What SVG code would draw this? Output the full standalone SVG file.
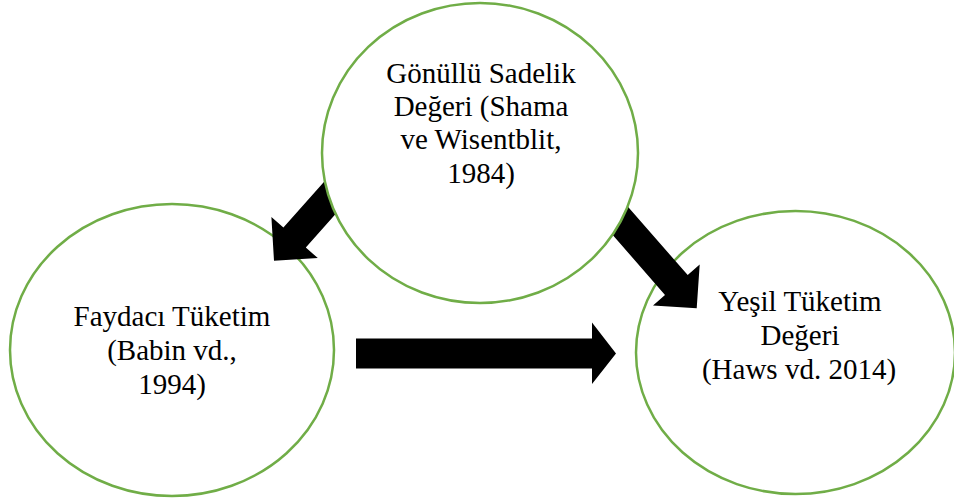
<svg xmlns="http://www.w3.org/2000/svg" width="954" height="502" viewBox="0 0 954 502">
<style>
.node{fill:#ffffff;stroke:#70AD47;stroke-width:2.5}
.arrow{fill:#000000;stroke:none}
.lbl{font-family:"Liberation Serif","Times New Roman",serif;font-size:29px;fill:#000000;text-anchor:middle}
</style>
<rect width="954" height="502" fill="#ffffff"/>
<g id="node-faydaci">
<ellipse class="node" cx="172" cy="350" rx="162" ry="146"/>
<text class="lbl" x="172" y="326">Faydacı Tüketim</text>
<text class="lbl" x="172" y="360">(Babin vd.,</text>
<text class="lbl" x="172" y="394">1994)</text>
</g>
<g id="node-yesil">
<ellipse class="node" cx="795.5" cy="352.5" rx="159.5" ry="141.5"/>
<text class="lbl" x="800" y="311">Yeşil Tüketim</text>
<text class="lbl" x="800" y="345">Değeri</text>
<text class="lbl" x="799" y="379">(Haws vd. 2014)</text>
</g>
<g id="connectors">
<path class="arrow" d="M372.3,172.8 L305.8,247.5 L317.8,258.1 L274,260.7 L271.4,216.9 L283.4,227.5 L349.9,152.8 Z"/>
<path class="arrow" d="M621.8,199.7 L687.7,275.1 L699.7,264.6 L696.7,308.3 L653,305.4 L665,294.9 L599.2,219.5 Z"/>
<path class="arrow" d="M356,338.5 L592,338.5 L592,322.5 L616,353.5 L592,384 L592,368.5 L356,368.5 Z"/>
</g>
<g id="node-gonullu">
<ellipse class="node" cx="480" cy="153" rx="158" ry="150"/>
<text class="lbl" x="481" y="83">Gönüllü Sadelik</text>
<text class="lbl" x="481" y="116">Değeri (Shama</text>
<text class="lbl" x="481" y="149">ve Wisentblit,</text>
<text class="lbl" x="481" y="183">1984)</text>
</g>
</svg>
